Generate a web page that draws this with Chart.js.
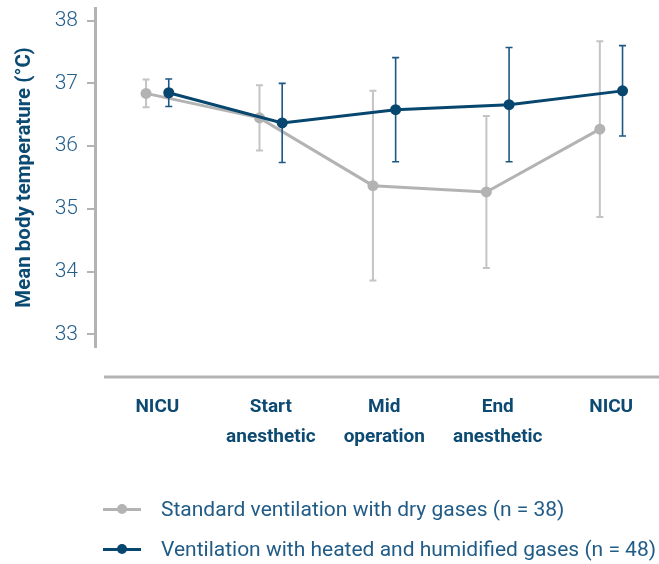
<!DOCTYPE html>
<html>
<head>
<meta charset="utf-8">
<script src="https://cdn.jsdelivr.net/npm/chart.js@4.4.0/dist/chart.umd.min.js"></script>
<style>
  html, body { margin: 0; padding: 0; background: #fff; }
  #wrap { position: relative; width: 659px; height: 564px; }
  .legend-row { position: absolute; left: 103px; height: 20px; display: flex; align-items: center;
    font-family: Roboto, "Liberation Sans", sans-serif; font-size: 21px; color: #215c87; white-space: nowrap; }
  .sym { position: relative; width: 38px; height: 20px; margin-right: 20px; flex: none; }
  .sym .ln { position: absolute; left: 0; right: 0; top: 8.5px; height: 3px; }
  .sym .dot { position: absolute; left: 14px; top: 5px; width: 10px; height: 10px; border-radius: 50%; }
</style>
</head>
<body>
<div id="wrap">
  <canvas id="chart" width="659" height="564"></canvas>
  <div class="legend-row" style="top: 499px;">
    <div class="sym"><div class="ln" style="background:#b3b3b3"></div><div class="dot" style="background:#b3b3b3"></div></div>
    <span>Standard ventilation with dry gases (n = 38)</span>
  </div>
  <div class="legend-row" style="top: 539px;">
    <div class="sym"><div class="ln" style="background:#07466f"></div><div class="dot" style="background:#07466f"></div></div>
    <span>Ventilation with heated and humidified gases (n = 48)</span>
  </div>
</div>
<script>
const categories = [['NICU'], ['Start', 'anesthetic'], ['Mid', 'operation'], ['End', 'anesthetic'], ['NICU']];
const dryMean = [36.84, 36.45, 35.37, 35.27, 36.27];
const drySD = [0.22, 0.52, 1.51, 1.21, 1.40];
const heatedMean = [36.85, 36.37, 36.58, 36.66, 36.88];
const heatedSD = [0.22, 0.63, 0.83, 0.91, 0.72];
const yTicks = [33, 34, 35, 36, 37, 38];

const blue = '#07466f';
const gray = '#b3b3b3';

// points sit a little left / right of each category
const toPoints = (vals, shift) => vals.map((v, i) => ({ x: i + shift, y: v }));

const errorBars = {
  id: 'errorBars',
  beforeDatasetDraw(chart, args) {
    const ds = chart.data.datasets[args.index];
    const meta = args.meta;
    const y = chart.scales.y;
    const ctx = chart.ctx;
    ctx.save();
    ctx.strokeStyle = ds.errColor;
    ctx.lineWidth = ds.errWidth;
    meta.data.forEach((pt, i) => {
      const m = ds.data[i].y, sd = ds.sd[i];
      const top = y.getPixelForValue(m + sd);
      const bot = y.getPixelForValue(m - sd);
      ctx.beginPath();
      ctx.moveTo(pt.x, top); ctx.lineTo(pt.x, bot);
      ctx.moveTo(pt.x - 3.5, top); ctx.lineTo(pt.x + 3.5, top);
      ctx.moveTo(pt.x - 3.5, bot); ctx.lineTo(pt.x + 3.5, bot);
      ctx.stroke();
    });
    ctx.restore();
  }
};

const xAxisLine = {
  id: 'xAxisLine',
  afterDraw(chart) {
    const { ctx, chartArea } = chart;
    ctx.save();
    ctx.strokeStyle = gray;
    ctx.lineWidth = 3;
    ctx.beginPath();
    ctx.moveTo(chartArea.left + 9, chartArea.bottom + 30);
    ctx.lineTo(chart.width, chartArea.bottom + 30);
    ctx.stroke();
    ctx.restore();
  }
};

new Chart(document.getElementById('chart'), {
  type: 'line',
  data: {
    datasets: [
      {
        label: 'Standard ventilation with dry gases (n = 38)',
        data: toPoints(dryMean, -0.1),
        sd: drySD,
        errColor: '#c4c4c4',
        errWidth: 2,
        borderColor: gray,
        backgroundColor: gray,
        borderWidth: 3,
        pointRadius: 5.5,
        pointBorderWidth: 0,
        order: 2,
      },
      {
        label: 'Ventilation with heated and humidified gases (n = 48)',
        data: toPoints(heatedMean, 0.1),
        sd: heatedSD,
        errColor: '#1d5783',
        errWidth: 1.6,
        borderColor: blue,
        backgroundColor: blue,
        borderWidth: 3,
        pointRadius: 5.5,
        pointBorderWidth: 0,
        order: 1,
      },
    ],
  },
  options: {
    responsive: false,
    devicePixelRatio: 1,
    animation: false,
    layout: { padding: { top: 8, left: 0, right: 0, bottom: 0 } },
    plugins: { legend: { display: false }, tooltip: { enabled: false } },
    scales: {
      x: {
        type: 'linear',
        min: -0.55,
        max: 4.373,
        afterFit: (s) => { s.height = 217; s.paddingLeft = 0; s.paddingRight = 0; },
        afterBuildTicks: (s) => { s.ticks = categories.map((c, i) => ({ value: i })); },
        grid: { display: false, drawTicks: false },
        border: { display: false },
        ticks: {
          padding: 46,
          maxRotation: 0,
          autoSkip: false,
          color: '#0d4a72',
          font: { family: 'Roboto', size: 19, weight: 'bold', lineHeight: 1.55 },
          callback: (v) => categories[v],
        },
      },
      y: {
        min: 32.8,
        max: 38.2,
        afterFit: (s) => { s.width = 95; s.paddingTop = 0; s.paddingBottom = 0; },
        afterBuildTicks: (s) => { s.ticks = yTicks.map(v => ({ value: v })); },
        grid: { drawOnChartArea: false, drawTicks: true, tickLength: 8, color: gray, lineWidth: 2 },
        border: { display: true, color: gray, width: 3 },
        ticks: {
          padding: 9,
          color: '#245f8b',
          font: { family: 'Roboto', size: 21, weight: '300' },
        },
        title: {
          display: true,
          text: 'Mean body temperature (°C)',
          color: '#0b4a73',
          font: { family: 'Roboto', size: 20.5, weight: 'bold', lineHeight: 1.2 },
          padding: { top: 13, bottom: 0 },
        },
      },
    },
  },
  plugins: [errorBars, xAxisLine],
});
</script>
</body>
</html>
